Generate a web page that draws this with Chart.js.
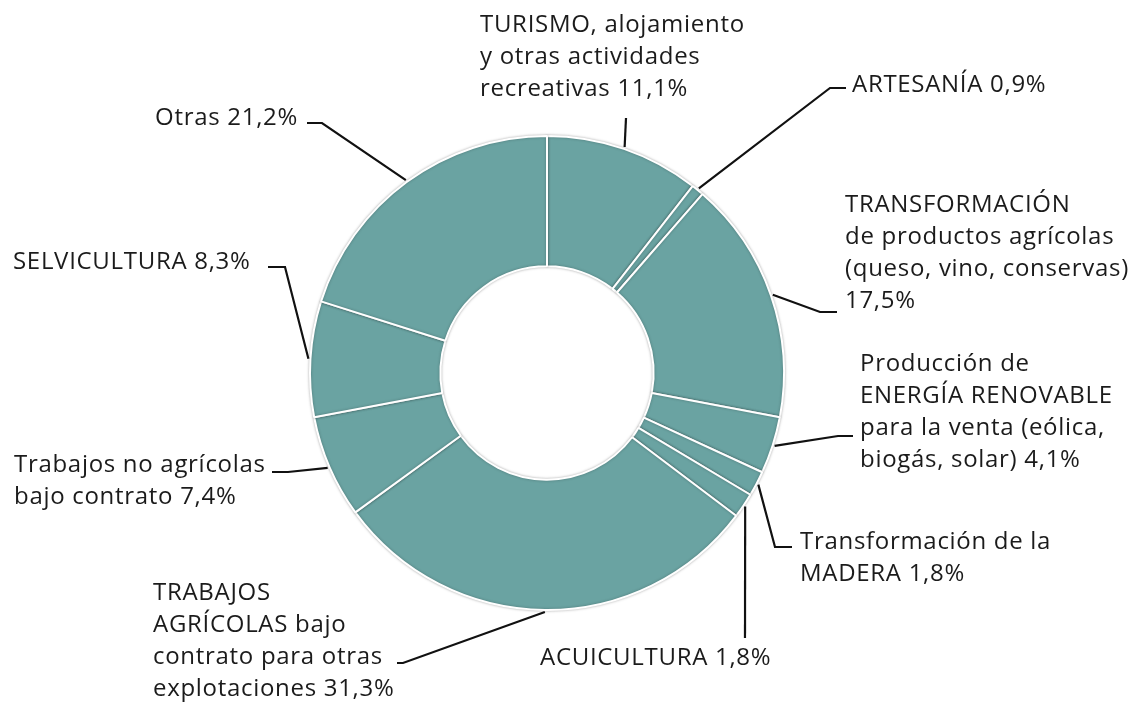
<!DOCTYPE html>
<html>
<head>
<meta charset="utf-8">
<script src="https://cdn.jsdelivr.net/npm/chart.js@4/dist/chart.umd.min.js"></script>
<style>
  html, body { margin: 0; padding: 0; background: #fff; }
  #wrap { width: 1139px; height: 703px; }
</style>
</head>
<body>
<div id="wrap"><canvas id="c" width="1139" height="703"></canvas></div>
<script>
// data
var categories = [
  "TURISMO, alojamiento y otras actividades recreativas",
  "ARTESANÍA",
  "TRANSFORMACIÓN de productos agrícolas (queso, vino, conservas)",
  "Producción de ENERGÍA RENOVABLE para la venta (eólica, biogás, solar)",
  "Transformación de la MADERA",
  "ACUICULTURA",
  "TRABAJOS AGRÍCOLAS bajo contrato para otras explotaciones",
  "Trabajos no agrícolas bajo contrato",
  "SELVICULTURA",
  "Otras"
];
var shares = [11.1, 0.9, 17.5, 4.1, 1.8, 1.8, 31.3, 7.4, 8.3, 21.2];
var labelLines = [
  ["TURISMO, alojamiento", "y otras actividades", "recreativas 11,1%"],
  ["ARTESANÍA 0,9%"],
  ["TRANSFORMACIÓN", "de productos agrícolas", "(queso, vino, conservas)", "17,5%"],
  ["Producción de", "ENERGÍA RENOVABLE", "para la venta (eólica,", "biogás, solar) 4,1%"],
  ["Transformación de la", "MADERA 1,8%"],
  ["ACUICULTURA 1,8%"],
  ["TRABAJOS", "AGRÍCOLAS bajo", "contrato para otras", "explotaciones 31,3%"],
  ["Trabajos no agrícolas", "bajo contrato 7,4%"],
  ["SELVICULTURA 8,3%"],
  ["Otras 21,2%"]
];

// callout layout, offsets from the doughnut centre
// elbow: bend of the leader, end: tip near the text, text: first line position
var callouts = [
  { elbow: [79, -255], end: [79, -255], text: [-67, -348], align: "left" },
  { elbow: [283, -285], end: [299, -285], text: [305, -288], align: "left" },
  { elbow: [273, -61], end: [290, -61], text: [298, -168], align: "left" },
  { elbow: [291, 63], end: [306, 63], text: [313, -9], align: "left" },
  { elbow: [228, 174], end: [245, 174], text: [253, 169], align: "left" },
  { elbow: [198, 265], end: [198, 265], text: [-7, 285], align: "left" },
  { elbow: [-144, 290], end: [-150, 290], text: [-394, 220], align: "left" },
  { elbow: [-259, 99], end: [-275, 99], text: [-533, 92], align: "left" },
  { elbow: [-262, -106], end: [-279, -106], text: [-534, -111], align: "left" },
  { elbow: [-225, -250], end: [-240, -250], text: [-249, -255], align: "right" }
];

var FONT = '24px "Open Sans", Lato, sans-serif';
var LINE_H = 32;

var ringShadow = {
  id: "ringShadow",
  beforeDatasetDraw: function (chart) {
    var ctx = chart.ctx;
    ctx.save();
    ctx.shadowColor = "rgba(0,0,0,0.28)";
    ctx.shadowBlur = 3;
  },
  afterDatasetDraw: function (chart) {
    chart.ctx.restore();
  }
};

var callout = {
  id: "callout",
  afterDatasetsDraw: function (chart) {
    var ctx = chart.ctx,
      arcs = chart.getDatasetMeta(0).data;
    ctx.save();
    ctx.strokeStyle = "#111";
    ctx.lineWidth = 2.2;
    ctx.fillStyle = "#1b1b1b";
    ctx.font = FONT;
    ctx.letterSpacing = "0.7px";
    ctx.textBaseline = "middle";
    arcs.forEach(function (arc, i) {
      var p = arc.getProps(["x", "y", "startAngle", "endAngle", "outerRadius"], true),
        a = (p.startAngle + p.endAngle) / 2,
        r = p.outerRadius + 2,
        c = callouts[i];
      ctx.beginPath();
      ctx.moveTo(p.x + Math.cos(a) * r, p.y + Math.sin(a) * r);
      ctx.lineTo(p.x + c.elbow[0], p.y + c.elbow[1]);
      ctx.lineTo(p.x + c.end[0], p.y + c.end[1]);
      ctx.stroke();
      ctx.textAlign = c.align;
      labelLines[i].forEach(function (line, k) {
        ctx.fillText(line, p.x + c.text[0], p.y + c.text[1] + k * LINE_H);
      });
    });
    ctx.restore();
  }
};

new Chart(document.getElementById("c"), {
  type: "doughnut",
  data: {
    labels: categories,
    datasets: [
      {
        data: shares,
        backgroundColor: "#6aa3a2",
        borderColor: "#ffffff",
        borderWidth: 2
      }
    ]
  },
  options: {
    responsive: false,
    animation: false,
    cutout: "45%",
    layout: { padding: { left: 309, top: 135, right: 354, bottom: 92 } },
    plugins: {
      legend: { display: false },
      tooltip: { enabled: false }
    }
  },
  plugins: [ringShadow, callout]
});
</script>
</body>
</html>
